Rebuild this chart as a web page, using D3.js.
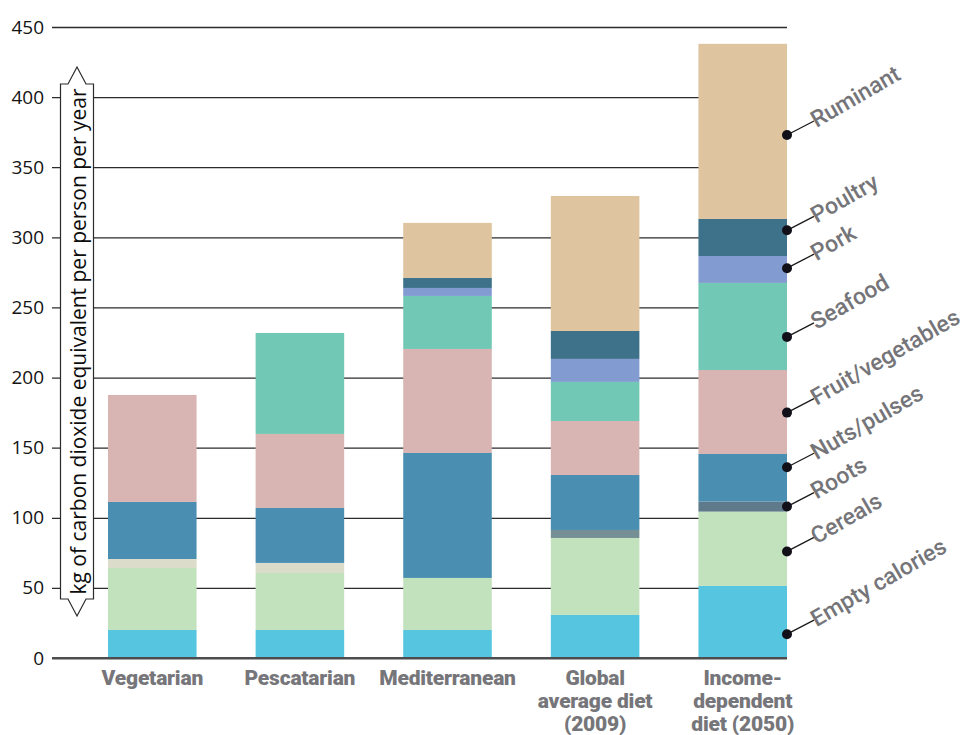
<!DOCTYPE html>
<html>
<head>
<meta charset="utf-8">
<script src="https://cdn.jsdelivr.net/npm/d3@7"></script>
<style>
  body { margin: 0; background: #fff; }
  svg { display: block; }
</style>
</head>
<body>
<svg id="chart" width="973" height="735"></svg>
<script>
// diets along the x axis, with their label lines
const diets = ['Vegetarian', 'Pescatarian', 'Mediterranean', 'Global', 'Income'];
const dietLabels = [
    ['Vegetarian'],
    ['Pescatarian'],
    ['Mediterranean'],
    ['Global', 'average diet', '(2009)'],
    ['Income-', 'dependent', 'diet (2050)']
];

// food groups, bottom of the stack first
const foods = ['Empty calories', 'Cereals', 'Roots', 'Nuts/pulses', 'Fruit/vegetables',
               'Seafood', 'Pork', 'Poultry', 'Ruminant'];

// kg CO2e per person per year, one array per food group (same order as diets)
const emptyCalories   = [20.0, 20.0, 20.0, 30.7, 51.4];
const cereals         = [44.2, 40.6, 37.1, 54.9, 53.0];
const roots           = [ 6.4,  7.2,  0.0,  5.7,  7.1];
const nutsPulses      = [40.7, 39.2, 89.1, 39.2, 34.0];
const fruitVegetables = [76.3, 52.8, 74.2, 38.5, 59.9];
const seafood         = [ 0.0, 72.0, 37.8, 27.9, 62.1];
const pork            = [ 0.0,  0.0,  5.7, 16.4, 19.2];
const poultry         = [ 0.0,  0.0,  7.1, 19.9, 26.4];
const ruminant        = [ 0.0,  0.0, 39.3, 96.3, 124.9];

const seriesValues = [emptyCalories, cereals, roots, nutsPulses, fruitVegetables,
                      seafood, pork, poultry, ruminant];

// where each legend dot sits on the last bar (kg CO2e)
const legendAt = [17, 76, 108, 136, 175, 229, 278, 305, 373];

const yTicks = [0, 50, 100, 150, 200, 250, 300, 350, 400, 450];

const colors = ['#56c6e0', '#c2e1bd', '#dcdccb', '#4a8fb1', '#d8b4b3',
                '#71c8b4', '#829bd1', '#3e718a', '#dec49f'];
// the roots band is drawn in a different shade on the last two bars
const rootsShade = ['#dcdccb', '#dcdccb', '#dcdccb', '#768f95', '#5f7b8b'];

// build rows for d3.stack
const table = diets.map(function(d, i) {
    let row = {diet: d};
    foods.forEach(function(f, j) { row[f] = seriesValues[j][i]; });
    return row;
});
const stacked = d3.stack().keys(foods)(table);

const svg = d3.select('#chart');
const left = 52, right = 787;

const x = d3.scaleBand()
    .domain(diets)
    .range([108, 787])
    .paddingInner(0.4)
    .paddingOuter(0);

const y = d3.scaleLinear()
    .domain([0, 450])
    .range([658, 27]);

// gridlines + tick labels
const yAxis = svg.append('g')
    .attr('transform', 'translate(' + left + ',0)')
    .call(d3.axisLeft(y)
        .tickValues(yTicks)
        .tickSize(-(right - left))
        .tickPadding(8));
yAxis.select('.domain').remove();
yAxis.selectAll('.tick line')
    .attr('stroke', '#2b2b2b')
    .attr('stroke-width', 1.3)
    .attr('x1', 0);
yAxis.selectAll('.tick text')
    .attr('fill', '#141414')
    .style('font-family', '"Open Sans", sans-serif')
    .style('font-size', '19px');
yAxis.selectAll('.tick')
    .filter(function(d) { return d === 0; })
    .select('line')
    .attr('stroke', '#4d4d4f')
    .attr('stroke-width', 2);

// stacked bars
const layers = svg.append('g').selectAll('g')
    .data(stacked)
    .join('g');

layers.selectAll('rect')
    .data(function(s, j) { return s.map(function(p, i) { return {p: p, j: j, i: i}; }); })
    .join('rect')
    .attr('x', function(d) { return x(diets[d.i]); })
    .attr('width', x.bandwidth())
    .attr('y', function(d) { return y(d.p[1]); })
    .attr('height', function(d) { return y(d.p[0]) - y(d.p[1]); })
    .attr('fill', function(d) { return d.j === 2 ? rootsShade[d.i] : colors[d.j]; });

// baseline on top of the bars
svg.append('line')
    .attr('x1', left).attr('x2', right)
    .attr('y1', y(0)).attr('y2', y(0))
    .attr('stroke', '#4d4d4f')
    .attr('stroke-width', 2);

// y axis title inside a double-headed arrow box
const bx0 = 60.5, bx1 = 93.5, bmid = 77, btop = 84, bbot = 599, head = 17, hw = 9;
const boxPath = d3.path();
boxPath.moveTo(bx0, btop);
boxPath.lineTo(bmid - hw, btop);
boxPath.lineTo(bmid, btop - head);
boxPath.lineTo(bmid + hw, btop);
boxPath.lineTo(bx1, btop);
boxPath.lineTo(bx1, bbot);
boxPath.lineTo(bmid + hw, bbot);
boxPath.lineTo(bmid, bbot + head);
boxPath.lineTo(bmid - hw, bbot);
boxPath.lineTo(bx0, bbot);
boxPath.closePath();
svg.append('path')
    .attr('d', boxPath.toString())
    .attr('fill', '#fff')
    .attr('stroke', '#2b2b2b')
    .attr('stroke-width', 1.2);

svg.append('text')
    .attr('transform', 'translate(' + (bmid + 1) + ',' + ((btop + bbot) / 2) + ') rotate(-90)')
    .attr('text-anchor', 'middle')
    .attr('dominant-baseline', 'central')
    .attr('fill', '#0d0d0d')
    .attr('textLength', 506)
    .attr('lengthAdjust', 'spacingAndGlyphs')
    .style('font-family', '"Open Sans", sans-serif')
    .style('font-size', '21px')
    .text('kg of carbon dioxide equivalent per person per year');

// category labels
const catLabels = svg.append('g').selectAll('text')
    .data(diets)
    .join('text')
    .attr('x', function(d) { return x(d) + x.bandwidth() / 2; })
    .attr('y', 685)
    .attr('text-anchor', 'middle')
    .attr('fill', '#76767a')
    .style('font-family', 'Roboto, sans-serif')
    .style('font-weight', '900')
    .style('font-size', '21px')
    .style('letter-spacing', '-0.2px');
catLabels.selectAll('tspan')
    .data(function(d, i) { return dietLabels[i]; })
    .join('tspan')
    .attr('x', function() { return d3.select(this.parentNode).attr('x'); })
    .attr('dy', function(d, k) { return k === 0 ? 0 : 23; })
    .text(function(d) { return d; });

// legend: dots on the last bar with leader lines and slanted names
const lastDiet = diets[diets.length - 1];
const legend = svg.append('g').selectAll('g')
    .data(foods)
    .join('g')
    .attr('transform', function(d, j) {
        return 'translate(' + (x(lastDiet) + x.bandwidth()) + ',' + y(legendAt[j]) + ')';
    });

legend.append('line')
    .attr('x1', 0).attr('y1', 0)
    .attr('x2', 27).attr('y2', -14)
    .attr('stroke', '#1a1a1a')
    .attr('stroke-width', 1.3);

legend.append('circle')
    .attr('r', 5)
    .attr('fill', '#111018');

legend.append('text')
    .attr('transform', 'translate(26,-13) rotate(-30)')
    .attr('x', 0)
    .attr('y', 7)
    .attr('fill', '#757579')
    .style('font-family', 'Roboto, sans-serif')
    .style('font-weight', '500')
    .style('font-size', '23px')
    .text(function(d) { return d; });
</script>
</body>
</html>
